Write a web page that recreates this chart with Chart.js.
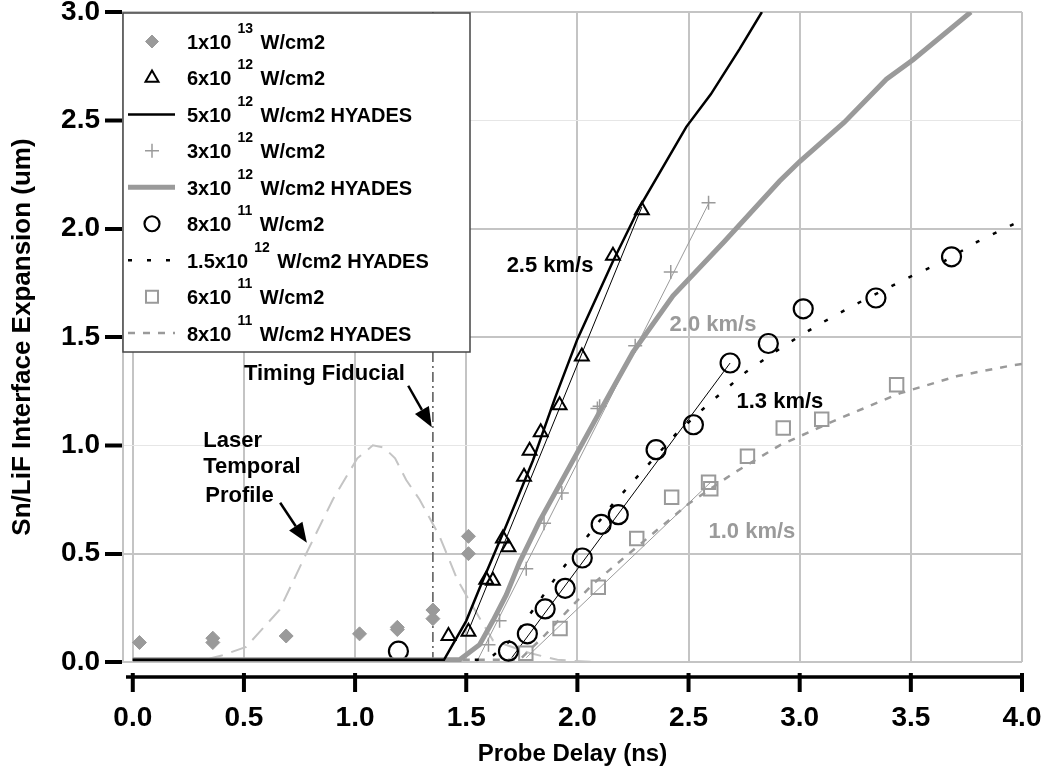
<!DOCTYPE html>
<html>
<head>
<meta charset="utf-8">
<script src="https://cdn.jsdelivr.net/npm/chart.js@4.4.1/dist/chart.umd.min.js"></script>
<style>
  html, body { margin: 0; padding: 0; background: #fff; }
</style>
</head>
<body>
<canvas id="chart" width="1042" height="775"></canvas>
<script>
// tick values (ns / um)
const xTicks = [0, 0.5, 1, 1.5, 2, 2.5, 3, 3.5, 4];
const yTicks = [0, 0.5, 1, 1.5, 2, 2.5, 3];

// 1x10^13 W/cm2 data
const d1e13X = [0.03, 0.36, 0.36, 0.69, 1.02, 1.19, 1.19, 1.35, 1.35, 1.51, 1.51];
const d1e13Y = [0.09, 0.09, 0.11, 0.12, 0.13, 0.16, 0.15, 0.24, 0.20, 0.58, 0.50];

// 6x10^12 W/cm2 data
const d6e12X = [1.42, 1.51, 1.59, 1.62, 1.665, 1.69, 1.76, 1.785, 1.835, 1.92, 2.02, 2.16, 2.29];
const d6e12Y = [0.12, 0.14, 0.38, 0.375, 0.57, 0.53, 0.855, 0.975, 1.06, 1.185, 1.41, 1.875, 2.085];

// 5x10^12 W/cm2 HYADES
const h5e12X = [0, 1.40, 1.45, 1.50, 1.56, 1.68, 1.80, 1.90, 2.00, 2.16, 2.28, 2.49, 2.60, 2.73, 2.83];
const h5e12Y = [0.01, 0.01, 0.10, 0.19, 0.34, 0.63, 0.93, 1.22, 1.49, 1.85, 2.10, 2.47, 2.62, 2.83, 3.00];

// 3x10^12 W/cm2 data
const d3e12X = [1.60, 1.65, 1.77, 1.85, 1.93, 2.09, 2.10, 2.26, 2.42, 2.59];
const d3e12Y = [0.08, 0.19, 0.43, 0.64, 0.78, 1.17, 1.18, 1.46, 1.80, 2.12];

// 3x10^12 W/cm2 HYADES
const h3e12X = [0, 1.47, 1.56, 1.62, 1.68, 1.74, 1.83, 2.13, 2.25, 2.43, 2.66, 2.91, 3.00, 3.20, 3.39, 3.51, 3.77];
const h3e12Y = [0.01, 0.01, 0.08, 0.19, 0.31, 0.46, 0.65, 1.21, 1.43, 1.69, 1.94, 2.22, 2.31, 2.49, 2.69, 2.78, 3.00];

// 8x10^11 W/cm2 data
const d8e11X = [1.195, 1.69, 1.775, 1.855, 1.945, 2.022, 2.107, 2.184, 2.354, 2.522, 2.687, 2.859, 3.016, 3.343, 3.683];
const d8e11Y = [0.05, 0.05, 0.13, 0.245, 0.34, 0.48, 0.635, 0.68, 0.98, 1.095, 1.38, 1.47, 1.63, 1.68, 1.87];

// 1.5x10^12 W/cm2 HYADES
const h15e12X = [0, 1.55, 1.61, 1.71, 1.80, 1.91, 2.03, 2.16, 2.30, 2.45, 2.60, 2.76, 2.93, 3.09, 3.25, 3.48, 3.65, 3.80, 3.96, 4.00];
const h15e12Y = [0.01, 0.01, 0.02, 0.11, 0.24, 0.40, 0.56, 0.73, 0.89, 1.06, 1.20, 1.34, 1.46, 1.56, 1.65, 1.77, 1.85, 1.94, 2.02, 2.04];

// 6x10^11 W/cm2 data
const d6e11X = [1.768, 1.922, 2.094, 2.267, 2.424, 2.59, 2.60, 2.765, 2.926, 3.099, 3.436];
const d6e11Y = [0.04, 0.155, 0.345, 0.57, 0.76, 0.83, 0.80, 0.95, 1.08, 1.12, 1.28];

// 8x10^11 W/cm2 HYADES
const h8e11X = [0, 1.74, 1.85, 1.95, 2.07, 2.22, 2.36, 2.50, 2.70, 2.91, 3.17, 3.45, 3.71, 3.96, 4.00];
const h8e11Y = [0.01, 0.01, 0.12, 0.23, 0.36, 0.49, 0.61, 0.73, 0.87, 1.00, 1.12, 1.24, 1.32, 1.37, 1.375];

// velocity fits (thin lines)
const fit6e12X = [1.50, 2.29];
const fit6e12Y = [0.12, 2.10];
const fit3e12X = [1.547, 2.594];
const fit3e12Y = [0.0, 2.124];
const fit8e11X = [1.705, 2.687];
const fit8e11Y = [0.02, 1.38];
const fit6e11X = [1.77, 2.60];
const fit6e11Y = [0.02, 0.83];

// laser temporal profile (normalised)
const laserX = [0, 0.30, 0.36, 0.40, 0.51, 0.66, 0.78, 0.90, 1.01, 1.08, 1.13, 1.18, 1.23, 1.29, 1.38, 1.46, 1.55, 1.62, 1.79, 1.91, 2.07];
const laserY = [0, 0, 0.02, 0.03, 0.07, 0.24, 0.50, 0.75, 0.94, 1.00, 0.99, 0.94, 0.84, 0.75, 0.58, 0.38, 0.22, 0.10, 0.04, 0.01, 0];

const fiducialX = 1.35;

const FAMILY = '"Liberation Sans", Arial, sans-serif';
const GRAY = '#9a9a9a';

function pts(xs, ys) {
    return xs.map((x, i) => ({ x: x, y: ys[i] }));
}

function markers(label, xs, ys, style, color, radius, width, fill) {
    return {
        label: label, inLegend: true, data: pts(xs, ys), showLine: false,
        pointStyle: style, pointRadius: radius, legendRadius: radius,
        pointBorderWidth: width, borderWidth: width,
        borderColor: color, pointBorderColor: color,
        backgroundColor: fill, pointBackgroundColor: fill,
        clip: false
    };
}

function curve(label, xs, ys, color, width, dash, inLegend) {
    return {
        label: label, inLegend: inLegend, data: pts(xs, ys), showLine: true,
        pointRadius: 0, borderColor: color, backgroundColor: color,
        borderWidth: width, borderDash: dash, fill: false, tension: 0
    };
}

const datasets = [
    markers('1x10^13 W/cm2', d1e13X, d1e13Y, 'rectRot', GRAY, 7, 1, GRAY),
    markers('6x10^12 W/cm2', d6e12X, d6e12Y, 'triangle', '#000', 8, 2, 'rgba(0,0,0,0)'),
    curve('5x10^12 W/cm2 HYADES', h5e12X, h5e12Y, '#000', 2.5, [], true),
    markers('3x10^12 W/cm2', d3e12X, d3e12Y, 'cross', GRAY, 7, 1.5, 'rgba(0,0,0,0)'),
    curve('3x10^12 W/cm2 HYADES', h3e12X, h3e12Y, GRAY, 5, [], true),
    markers('8x10^11 W/cm2', d8e11X, d8e11Y, 'circle', '#000', 9.5, 2.2, 'rgba(0,0,0,0)'),
    curve('1.5x10^12 W/cm2 HYADES', h15e12X, h15e12Y, '#000', 2.5, [4, 15], true),
    markers('6x10^11 W/cm2', d6e11X, d6e11Y, 'rect', GRAY, 9.5, 2, 'rgba(0,0,0,0)'),
    curve('8x10^11 W/cm2 HYADES', h8e11X, h8e11Y, GRAY, 2.5, [7, 8], true),
    curve('fit 6e12', fit6e12X, fit6e12Y, '#000', 1, [], false),
    curve('fit 3e12', fit3e12X, fit3e12Y, GRAY, 1, [], false),
    curve('fit 8e11', fit8e11X, fit8e11Y, '#000', 1, [], false),
    curve('fit 6e11', fit6e11X, fit6e11Y, GRAY, 1, [], false),
    curve('laser profile', laserX, laserY, '#c4c4c4', 2, [16, 9], false)
];
datasets[0].legendRadius = 6.5;
datasets[1].legendRadius = 7.5;
datasets[5].legendRadius = 7.5;
datasets[7].legendRadius = 8.5;

// black x axis sits a little below the plot frame
const detachedAxis = {
    id: 'detachedAxis',
    afterDraw(chart) {
        const { ctx, chartArea } = chart;
        const x = chart.scales.x;
        const y0 = chartArea.bottom + 15;
        ctx.save();
        ctx.strokeStyle = '#000';
        ctx.lineWidth = 3.5;
        ctx.beginPath();
        ctx.moveTo(chartArea.left + 3, y0);
        ctx.lineTo(x.getPixelForValue(4) + 2, y0);
        ctx.stroke();
        ctx.lineWidth = 4;
        xTicks.forEach(v => {
            const px = x.getPixelForValue(v);
            ctx.beginPath();
            ctx.moveTo(px, y0 - 4);
            ctx.lineTo(px, y0 + 15);
            ctx.stroke();
        });
        ctx.restore();
    }
};

function arrow(ctx, x0, y0, x1, y1) {
    const a = Math.atan2(y1 - y0, x1 - x0);
    const len = 20, half = 8;
    const bx = x1 - Math.cos(a) * len, by = y1 - Math.sin(a) * len;
    ctx.beginPath();
    ctx.moveTo(x0, y0);
    ctx.lineTo(bx, by);
    ctx.stroke();
    ctx.beginPath();
    ctx.moveTo(x1, y1);
    ctx.lineTo(bx + Math.sin(a) * half, by - Math.cos(a) * half);
    ctx.lineTo(bx - Math.sin(a) * half, by + Math.cos(a) * half);
    ctx.closePath();
    ctx.fill();
}

const annotations = {
    id: 'annotations',
    beforeDatasetsDraw(chart) {
        const { ctx } = chart;
        const x = chart.scales.x, y = chart.scales.y;
        const px = x.getPixelForValue(fiducialX);
        ctx.save();
        ctx.strokeStyle = '#555';
        ctx.lineWidth = 1.5;
        ctx.setLineDash([10, 4, 2, 4]);
        ctx.beginPath();
        ctx.moveTo(px, y.getPixelForValue(0));
        ctx.lineTo(px, y.getPixelForValue(3));
        ctx.stroke();
        ctx.restore();
    },
    afterDatasetsDraw(chart) {
        const { ctx } = chart;
        const x = chart.scales.x, y = chart.scales.y;
        const notes = [
            ['Timing Fiducial', 0.862, 1.33, '#000', 'center'],
            ['Laser', 0.317, 1.02, '#000', 'left'],
            ['Temporal', 0.317, 0.898, '#000', 'left'],
            ['Profile', 0.326, 0.765, '#000', 'left'],
            ['2.5 km/s', 1.877, 1.83, '#000', 'center'],
            ['2.0 km/s', 2.61, 1.556, GRAY, 'center'],
            ['1.3 km/s', 2.911, 1.20, '#000', 'center'],
            ['1.0 km/s', 2.785, 0.602, GRAY, 'center']
        ];
        ctx.save();
        ctx.font = 'bold 22px ' + FAMILY;
        ctx.textBaseline = 'middle';
        notes.forEach(n => {
            ctx.fillStyle = n[3];
            ctx.textAlign = n[4];
            ctx.fillText(n[0], x.getPixelForValue(n[1]), y.getPixelForValue(n[2]));
        });
        ctx.strokeStyle = '#000';
        ctx.fillStyle = '#000';
        ctx.lineWidth = 2.5;
        arrow(ctx, x.getPixelForValue(1.239), y.getPixelForValue(1.275),
            x.getPixelForValue(1.345), y.getPixelForValue(1.083));
        arrow(ctx, x.getPixelForValue(0.663), y.getPixelForValue(0.735),
            x.getPixelForValue(0.783), y.getPixelForValue(0.55));
        ctx.restore();
    }
};

// boxed legend in the upper left corner, with superscript exponents
const boxLegend = {
    id: 'boxLegend',
    afterDraw(chart) {
        const { ctx } = chart;
        const items = chart.data.datasets.filter(d => d.inLegend);
        const left = 123, top = 13, w = 347, h = 339;
        ctx.save();
        ctx.fillStyle = '#fff';
        ctx.fillRect(left, top, w, h);
        ctx.strokeStyle = '#444';
        ctx.lineWidth = 1.5;
        ctx.strokeRect(left, top, w, h);
        items.forEach((d, i) => {
            const cy = top + 28.5 + i * 36.45;
            ctx.save();
            if (d.showLine) {
                ctx.strokeStyle = d.borderColor;
                ctx.lineWidth = d.borderWidth;
                ctx.setLineDash(d.borderDash || []);
                ctx.beginPath();
                ctx.moveTo(left + 5, cy);
                ctx.lineTo(left + 52, cy);
                ctx.stroke();
            } else {
                ctx.strokeStyle = d.borderColor;
                ctx.fillStyle = d.backgroundColor;
                ctx.lineWidth = d.borderWidth;
                Chart.helpers.drawPoint(ctx, {
                    pointStyle: d.pointStyle, radius: d.legendRadius,
                    borderWidth: d.borderWidth, rotation: 0
                }, left + 29, cy);
            }
            ctx.restore();
            const m = d.label.match(/^(.*?)\^(\d+)\s*(.*)$/);
            const base = cy + 7.5;
            let tx = left + 64;
            ctx.fillStyle = '#000';
            ctx.textAlign = 'left';
            ctx.textBaseline = 'alphabetic';
            ctx.font = 'bold 20px ' + FAMILY;
            ctx.fillText(m[1], tx, base);
            tx += ctx.measureText(m[1]).width + 6;
            ctx.font = 'bold 14px ' + FAMILY;
            ctx.fillText(m[2], tx, base - 16);
            tx += ctx.measureText(m[2]).width + 7.5;
            ctx.font = 'bold 20px ' + FAMILY;
            ctx.fillText(m[3], tx, base);
        });
        ctx.restore();
    }
};

const chart = new Chart(document.getElementById('chart'), {
    type: 'scatter',
    data: { datasets: datasets },
    plugins: [annotations, detachedAxis, boxLegend],
    options: {
        responsive: false,
        animation: false,
        events: [],
        layout: { padding: { top: 12, right: 20, left: 0, bottom: 0 } },
        plugins: { legend: { display: false }, tooltip: { enabled: false } },
        scales: {
            x: {
                type: 'linear',
                min: -0.044,
                max: 4.0,
                afterBuildTicks: s => { s.ticks = xTicks.map(v => ({ value: v })); },
                afterFit: s => { s.height = 113; s.paddingLeft = 0; s.paddingRight = 0; },
                border: { display: false },
                grid: { color: '#c4c4c4', lineWidth: 2, drawTicks: false },
                ticks: {
                    padding: 39, color: '#000',
                    font: { family: FAMILY, size: 28, weight: 'bold' },
                    callback: v => v.toFixed(1)
                },
                title: {
                    display: true, text: 'Probe Delay (ns)', color: '#000',
                    font: { family: FAMILY, size: 24, weight: 'bold' },
                    padding: { top: 0, bottom: 6 }
                }
            },
            y: {
                type: 'linear',
                min: 0,
                max: 3,
                afterBuildTicks: s => { s.ticks = yTicks.map(v => ({ value: v })); },
                afterFit: s => { s.width = 123; s.paddingTop = 0; s.paddingBottom = 0; },
                border: { display: true, color: '#c4c4c4', width: 2 },
                grid: {
                    color: c => (c.tick && (c.tick.value === 1 || c.tick.value === 2.5)) ? '#e6e6e6' : '#c4c4c4',
                    lineWidth: c => (c.tick && (c.tick.value === 1 || c.tick.value === 2.5)) ? 1 : 2,
                    drawTicks: true, tickLength: 18, tickColor: '#000', tickWidth: 4
                },
                ticks: {
                    padding: 5, color: '#000',
                    font: { family: FAMILY, size: 28, weight: 'bold' },
                    callback: v => v.toFixed(1)
                },
                title: {
                    display: true, text: 'Sn/LiF Interface Expansion (um)', color: '#000',
                    font: { family: FAMILY, size: 26, weight: 'bold' },
                    padding: { top: 7, bottom: 0 }
                }
            }
        }
    }
});
</script>
</body>
</html>
